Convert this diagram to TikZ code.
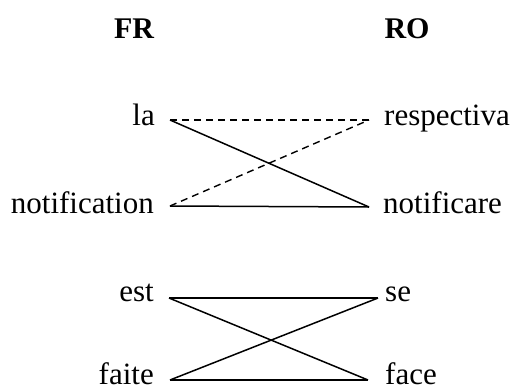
\documentclass[tikz,border=0pt]{standalone}
\usepackage{fontspec}
\setmainfont{Liberation Serif}
\begin{document}
\begin{tikzpicture}[x=1pt,y=-1pt,
  word/.style={inner sep=0pt,font=\fontsize{31}{36}\selectfont},
  head/.style={inner sep=0pt,font=\fontsize{30}{36}\selectfont\bfseries,anchor=base},
  lw/.style={anchor=base east},
  rw/.style={anchor=base west},
  link/.style={line width=1.5pt},
  dlink/.style={line width=1.4pt,dash pattern=on 7pt off 5pt}]
\useasboundingbox (0,0) rectangle (512,389);
\node[head] (fr) at (134,38) {FR};
\node[head] (ro) at (407,38) {RO};
\node[word,lw] (la) at (155,125) {la};
\node[word,rw] (resp) at (384,125) {respectiva};
\node[word,lw] (notif) at (154,213) {notification};
\node[word,rw] (notifro) at (383,213) {notificare};
\node[word,lw] (est) at (154,301) {est};
\node[word,rw] (se) at (385,301) {se};
\node[word,lw] (faite) at (154,384.5) {faite};
\node[word,rw] (face) at (385,384.5) {face};
\coordinate (laP) at (170,120);
\coordinate (respP) at (369,120);
\coordinate (notifP) at (170,206);
\coordinate (notifroP) at (369,207);
\coordinate (estP) at (169,298);
\coordinate (seP) at (378,298);
\coordinate (faiteP) at (170,380);
\coordinate (faceP) at (368,380);
\draw[dlink] (laP) -- (respP);
\draw[link] (laP) -- (notifroP);
\draw[dlink] (notifP) -- (respP);
\draw[link] (notifP) -- (notifroP);
\draw[link] (estP) -- (seP);
\draw[link] (estP) -- (faceP);
\draw[link] (faiteP) -- (seP);
\draw[link] (faiteP) -- (faceP);
\end{tikzpicture}
\end{document}
